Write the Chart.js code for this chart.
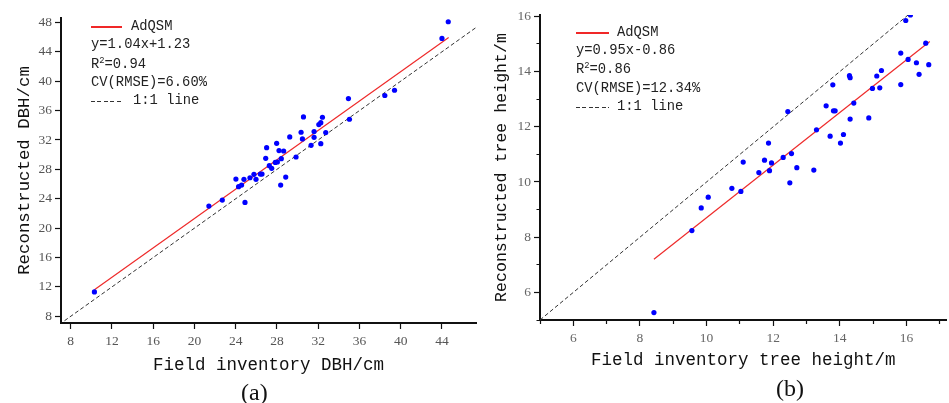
<!DOCTYPE html>
<html><head><meta charset="utf-8">
<script src="https://cdn.jsdelivr.net/npm/chart.js@4/dist/chart.umd.min.js"></script>
<style>
html,body{margin:0;padding:0;background:#fff;width:949px;height:403px;overflow:hidden;}
#wrap{position:relative;width:949px;height:403px;}
canvas{position:absolute;top:0;}
.t{position:absolute;font-family:"Liberation Mono",monospace;font-size:15px;line-height:18px;height:18px;color:#222;white-space:pre;transform:scaleX(0.92);transform-origin:0 50%;}
.t sup{font-size:9.5px;vertical-align:5px;line-height:0;}
.red{position:absolute;height:2px;background-color:rgb(240,40,40);}
.dash{position:absolute;height:1.2px;background:repeating-linear-gradient(to right,#333 0 4px,transparent 4px 6.4px);}
.lab{position:absolute;font-family:"Liberation Serif",serif;font-size:24px;line-height:28px;color:#111;}
</style></head>
<body><div id="wrap">
<canvas id="c1" width="480" height="403" style="left:0"></canvas>
<canvas id="c2" width="469" height="403" style="left:480px"></canvas>

<div class="red" style="left:91px;top:26px;width:31px"></div>
<div class="t" style="left:131px;top:18px">AdQSM</div>
<div class="t" style="left:91px;top:36px">y=1.04x+1.23</div>
<div class="t" style="left:91px;top:56px">R<sup>2</sup>=0.94</div>
<div class="t" style="left:91px;top:73.5px">CV(RMSE)=6.60%</div>
<div class="dash" style="left:91px;top:101px;width:31px"></div>
<div class="t" style="left:133px;top:92px">1:1 line</div>

<div class="red" style="left:576px;top:32px;width:33px"></div>
<div class="t" style="left:617px;top:24px">AdQSM</div>
<div class="t" style="left:576px;top:42px">y=0.95x-0.86</div>
<div class="t" style="left:576px;top:61px">R<sup>2</sup>=0.86</div>
<div class="t" style="left:576px;top:79.5px">CV(RMSE)=12.34%</div>
<div class="dash" style="left:576px;top:107px;width:33px"></div>
<div class="t" style="left:617px;top:98px">1:1 line</div>

<div class="lab" style="left:241px;top:378px">(a)</div>
<div class="lab" style="left:776px;top:374px">(b)</div>
</div>
<script>
// ---- (a) DBH ----
const dbhField = [10.30,21.40,22.70,24.02,24.28,24.57,24.80,24.90,25.38,25.77,25.97,26.39,26.55,26.91,27.00,27.26,27.49,27.84,28.04,27.97,28.20,28.42,28.36,28.65,28.85,29.24,29.85,30.34,30.47,30.57,31.31,31.60,31.60,32.06,32.25,32.25,32.41,32.73,34.93,35.03,38.46,39.40,44.00,44.61];
const dbhRecon = [11.32,23.00,23.82,26.68,25.64,25.86,26.64,23.50,26.86,27.32,26.64,27.36,27.36,29.50,30.95,28.50,28.14,28.95,29.00,31.55,30.55,29.45,25.86,30.50,26.95,32.41,29.68,33.05,32.14,35.14,31.27,32.36,33.14,34.09,34.36,31.50,35.09,33.00,37.64,34.82,38.05,38.77,45.82,48.09];
const dbhFitX = [10.3, 44.65];
const dbhFitY = [11.6, 45.95];
const dbhOneToOne = [7.4, 47.3];
const dbhXTicks = [8,12,16,20,24,28,32,36,40,44];
const dbhYTicks = [8,12,16,20,24,28,32,36,40,44,48];

// ---- (b) tree height ----
const htField = [8.42,9.56,9.84,10.05,10.76,11.03,11.10,11.57,11.74,11.86,11.89,11.95,12.30,12.44,12.50,12.55,12.71,13.22,13.30,13.59,13.71,13.79,13.81,13.86,14.02,14.11,14.29,14.31,14.31,14.42,14.87,14.98,15.11,15.20,15.25,15.83,15.83,15.98,16.05,16.12,16.30,16.38,16.58,16.67];
const htRecon = [5.27,8.24,9.06,9.45,9.77,9.66,10.72,10.34,10.79,11.41,10.41,10.69,10.89,12.55,9.97,11.03,10.52,10.43,11.89,12.76,11.66,13.52,12.58,12.58,11.41,11.72,13.85,13.78,12.28,12.86,12.32,13.39,13.84,13.41,14.04,14.67,13.53,15.85,14.44,16.05,14.32,13.90,15.03,14.25];
const htFitX = [8.42, 16.7];
const htFitY = [7.2, 15.09];
const htOneToOne = [5, 16.2];
const htXTicks = [5,6,7,8,9,10,11,12,13,14,15,16,17];
const htYTicks = [5,6,7,8,9,10,11,12,13,14,15,16];

function pts(xs, ys){ return xs.map((x,i)=>({x:x, y:ys[i]})); }

function makeChart(id, o){
  const axisCommon = (ticksArr, labelFn, fitFn, title, tpad, tsize, isX) => ({
    type:'linear',
    afterBuildTicks: s => { s.ticks = ticksArr.map(v=>({value:v})); },
    afterFit: fitFn,
    grid:{drawOnChartArea:false, drawTicks:true, tickLength:6, tickColor:'#111', tickWidth:1.2,
      tickBorderDash: ctx => {
        if (!o.minor) return [];
        const v = ctx.tick ? ctx.tick.value : 0;
        if (v % 2 === 0) return [];
        return isX ? [3, 100] : [0.01, 2.5, 10, 100];
      }},
    border:{display:true, color:'#111', width:2},
    ticks:{autoSkip:false, maxRotation:0, padding:isX ? 4 : 3, color:o.tickColor,
      font:{family:'"Liberation Serif", serif', size:13.5}, callback: labelFn},
    title:{display:true, text:title, color:'#111',
      font:{family:'"Liberation Mono", monospace', size:tsize}, padding:{top:tpad,bottom:tpad}}
  });
  const x = axisCommon(o.xTicks, o.xLabel, s=>{ s.height = o.xH; }, o.xTitle, o.xTitlePad, o.xTitleSize, true);
  x.min = o.xMin; x.max = o.xMax;
  const y = axisCommon(o.yTicks, o.yLabel, s=>{ s.width = o.yW; }, o.yTitle, o.yTitlePad, o.yTitleSize, false);
  y.min = o.yMin; y.max = o.yMax;
  return new Chart(document.getElementById(id), {
    type:'scatter',
    data:{datasets:[
      {label:'points', data:pts(o.fx,o.fy), pointRadius:2.6, pointHoverRadius:2.6, backgroundColor:'#0000ff', borderWidth:0},
      {label:'AdQSM', data:pts(o.lx,o.ly), showLine:true, pointRadius:0, borderColor:'#ee2a2a', borderWidth:1.2, fill:false},
      {label:'1:1 line', data:pts(o.ref,o.ref), showLine:true, pointRadius:0, borderColor:'#333', borderWidth:1, borderDash:[4,2.5], fill:false}
    ]},
    options:{
      responsive:false, animation:false, devicePixelRatio:1,
      layout:{padding:o.pad},
      plugins:{legend:{display:false}, tooltip:{enabled:false}},
      scales:{x:x, y:y}
    }
  });
}

makeChart('c1', {
  fx:dbhField, fy:dbhRecon, lx:dbhFitX, ly:dbhFitY, ref:dbhOneToOne,
  xTicks:dbhXTicks, yTicks:dbhYTicks, minor:false,
  xLabel:v=>String(v), yLabel:v=>String(v),
  xMin:7.06, xMax:47.3, yMin:7.09, yMax:48.6,
  xH:80, yW:61, pad:{left:0, right:4, top:18, bottom:0},
  xTitle:'Field inventory DBH/cm', yTitle:'Reconstructed DBH/cm',
  xTitlePad:27.5, yTitlePad:14.2, xTitleSize:17.5, yTitleSize:17.4, tickColor:'#555'
});

makeChart('c2', {
  fx:htField, fy:htRecon, lx:htFitX, ly:htFitY, ref:htOneToOne,
  xTicks:htXTicks, yTicks:htYTicks, minor:true,
  xLabel:v=>(v%2===0?String(v):''), yLabel:v=>(v%2===0?String(v):''),
  xMin:5, xMax:17.2, yMin:5, yMax:16.05,
  xH:83, yW:60, pad:{left:0, right:0, top:15, bottom:0},
  xTitle:'Field inventory tree height/m', yTitle:'Reconstructed tree height/m',
  xTitlePad:32.5, yTitlePad:11.7, xTitleSize:17.5, yTitleSize:16.6, tickColor:'#666'
});
</script>
</body></html>
